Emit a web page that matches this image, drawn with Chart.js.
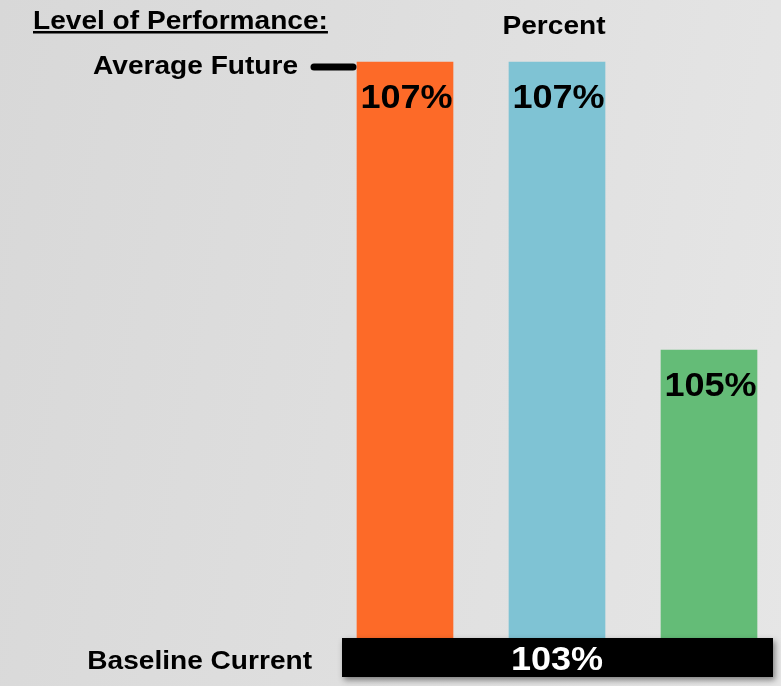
<!DOCTYPE html>
<html>
<head>
<meta charset="utf-8">
<script src="https://cdn.jsdelivr.net/npm/chart.js@4/dist/chart.umd.min.js"></script>
<style>
  html, body { margin: 0; padding: 0; }
  body {
    width: 781px; height: 686px; overflow: hidden;
    background: linear-gradient(100deg, #d8d8d8 0%, #dedede 45%, #e6e6e6 100%);
  }
  #wrap { position: relative; width: 781px; height: 686px; }
</style>
</head>
<body>
<div id="wrap"><canvas id="chart" width="781" height="686"></canvas></div>
<script>
// chart data
const categories = ['A', 'B', 'C'];
const percentValues = [107, 107, 105];
const barColors = ['#fd6a28', '#7fc3d4', '#64bc77'];
const baselineValue = 103;
const futureValue = 107;
const baselineLabel = 'Baseline Current';
const futureLabel = 'Average Future';

const FONT = '"Liberation Sans", Arial, sans-serif';

// text drawn a bit wider than the font, like the original slide
function wideText(ctx, text, x, y, align, sx) {
    const w = ctx.measureText(text).width * sx;
    let left = x;
    if (align === 'center') left = x - w / 2;
    if (align === 'right') left = x - w;
    ctx.save();
    ctx.textAlign = 'left';
    ctx.translate(left, y);
    ctx.scale(sx, 1);
    ctx.fillText(text, 0, 0);
    ctx.restore();
    return w;
}

const overlayPlugin = {
    id: 'overlay',
    afterDatasetsDraw(chart) {
        const ctx = chart.ctx;
        const y = chart.scales.y;
        const bars = chart.getDatasetMeta(0).data;
        ctx.save();
        ctx.textBaseline = 'alphabetic';

        // headings
        ctx.fillStyle = '#000';
        ctx.font = 'bold 26px ' + FONT;
        const w = wideText(ctx, 'Level of Performance:', 33, 29, 'left', 1.08);
        ctx.fillRect(33, 31, w, 2.5);
        wideText(ctx, 'Percent', 554, 34, 'center', 1.08);

        // future marker
        const yf = y.getPixelForValue(futureValue);
        wideText(ctx, futureLabel, 298, yf + 12, 'right', 1.08);
        ctx.strokeStyle = '#000';
        ctx.lineWidth = 7;
        ctx.lineCap = 'round';
        ctx.beginPath();
        ctx.moveTo(314, yf + 5);
        ctx.lineTo(353, yf + 5);
        ctx.stroke();

        // value labels
        ctx.font = 'bold 34px ' + FONT;
        bars.forEach((bar, i) => {
            wideText(ctx, percentValues[i] + '%', bar.x + 1.5, bar.y + 46, 'center', 1.06);
        });

        // baseline bar
        const yb = y.getPixelForValue(baselineValue);
        const left = bars[0].x - 63;
        const right = bars[bars.length - 1].x + 64;
        ctx.save();
        ctx.shadowColor = 'rgba(0,0,0,0.45)';
        ctx.shadowBlur = 6;
        ctx.shadowOffsetX = 2;
        ctx.shadowOffsetY = 3;
        ctx.fillRect(left, yb, right - left, 39);
        ctx.restore();
        ctx.fillStyle = '#fff';
        wideText(ctx, baselineValue + '%', 557, yb + 32, 'center', 1.06);

        ctx.fillStyle = '#000';
        ctx.font = 'bold 26px ' + FONT;
        wideText(ctx, baselineLabel, 312, yb + 31, 'right', 1.08);
        ctx.restore();
    }
};

new Chart(document.getElementById('chart'), {
    type: 'bar',
    data: {
        labels: categories,
        datasets: [{
            data: percentValues,
            backgroundColor: barColors,
            borderWidth: 0,
            barThickness: 96,
            base: baselineValue,
            clip: false
        }]
    },
    options: {
        responsive: false,
        animation: false,
        layout: { padding: { left: 405, right: 72, top: 62, bottom: 48 } },
        plugins: { legend: { display: false }, tooltip: { enabled: false } },
        scales: {
            x: { display: false, offset: false },
            y: { display: false, min: baselineValue, max: futureValue }
        }
    },
    plugins: [overlayPlugin]
});
</script>
</body>
</html>
